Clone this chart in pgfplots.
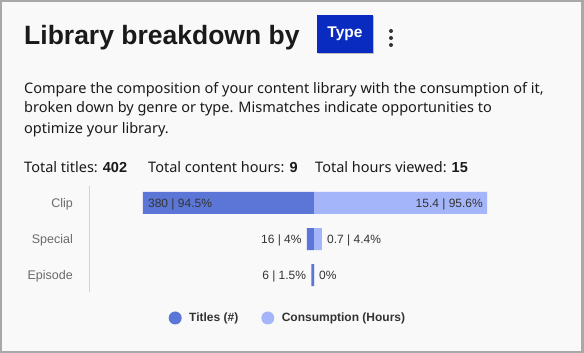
\documentclass[border=0pt]{standalone}
\usepackage{pgfplots}
\pgfplotsset{compat=1.18}
\usepackage{fontspec}
\setmainfont{Liberation Sans}
\newfontfamily\bodyfont{Noto Sans}
\newcommand{\num}[1]{{\normalfont\bfseries #1}}
\definecolor{bordergray}{HTML}{A8A8A8}
\definecolor{bgcol}{HTML}{F9F9F9}
\definecolor{darkbar}{HTML}{5B76D7}
\definecolor{lightbar}{HTML}{A5B5FA}
\definecolor{btnblue}{HTML}{0A2BBF}
\definecolor{axiscol}{HTML}{C9D3EE}
\definecolor{txtdark}{HTML}{1A1A1A}
\definecolor{txtmid}{HTML}{333333}
\definecolor{txtgray}{HTML}{6A6A6A}
\begin{document}
\begin{tikzpicture}
% background and frame
\fill[bordergray] (0pt,0pt) rectangle (584pt,-353pt);
\fill[bgcol] (2pt,-2pt) rectangle (580.5pt,-350.5pt);
% title
\node[anchor=base west, inner sep=0pt, text=txtdark, font=\fontsize{26.5}{30}\selectfont\bfseries] at (24pt,-45pt) {Library breakdown by};
\fill[black!25] (318pt,-16pt) rectangle (374pt,-54pt);
\node[fill=btnblue, text=white, inner sep=0pt, minimum width=56pt, minimum height=38pt, font=\fontsize{15.5}{18}\selectfont\bfseries] at (345pt,-34pt) {Type};
\fill[txtmid] (391pt,-31pt) circle (2pt);
\fill[txtmid] (391pt,-38pt) circle (2pt);
\fill[txtmid] (391pt,-45pt) circle (2pt);
% description
\begin{scope}[every node/.style={anchor=base west, inner sep=0pt, text=txtdark, font=\bodyfont\fontsize{14.5}{20}\selectfont}]
\node at (24pt,-93pt) {Compare the composition of your content library with the consumption of it,};
\node at (24pt,-113pt) {broken down by genre or type. Mismatches indicate opportunities to};
\node at (24pt,-133pt) {optimize your library.};
\node at (24pt,-172pt) {Total titles: \num{402}};
\node at (148pt,-172pt) {Total content hours: \num{9}};
\node at (315pt,-172pt) {Total hours viewed: \num{15}};
\end{scope}
\begin{axis}[
  at={(89pt,-292pt)}, anchor=south west,
  scale only axis, width=450pt, height=106pt,
  xmin=-124.3, xmax=124.3, ymin=-0.47, ymax=2.47,
  hide x axis,
  axis y line*=left,
  y axis line style={draw=axiscol, line width=1pt},
  ytick={0,1,2}, yticklabels={Episode,Special,Clip},
  major tick length=0pt,
  yticklabel style={anchor=base east, inner sep=0pt, xshift=-16pt, yshift=-4.5pt, text=txtgray, font=\fontsize{12.5}{14}\selectfont},
  clip=false,
  legend columns=2,
  legend style={at={(0.442,-0.245)}, anchor=center, draw=none, fill=none,
    font=\fontsize{12}{15}\selectfont\bfseries, text=txtmid,
    /tikz/every even column/.append style={column sep=21pt}},
  legend cell align=left,
]
\addplot[xbar, bar width=22pt, bar shift=0pt, fill=darkbar, draw=none,
  legend image code/.code={\fill[darkbar] (0pt,0pt) circle (6.5pt); \path (12pt,0pt);}]
  coordinates {(-94.5,2) (-4,1) (-1.5,0)};
\addlegendentry{Titles (\#)}
\addplot[xbar, bar width=22pt, bar shift=0pt, fill=lightbar, draw=none,
  legend image code/.code={\fill[lightbar] (0pt,0pt) circle (6.5pt); \path (12pt,0pt);}]
  coordinates {(95.6,2) (4.4,1) (0,0)};
\addlegendentry{Consumption (Hours)}
\begin{scope}[every node/.style={inner sep=0pt, text=txtmid, font=\fontsize{12}{14}\selectfont}]
\node[anchor=base west] at ([xshift=5pt,yshift=-4.5pt]axis cs:-94.5,2) {380 | 94.5\%};
\node[anchor=base east] at ([xshift=-4pt,yshift=-4.5pt]axis cs:95.6,2) {15.4 | 95.6\%};
\node[anchor=base east] at ([xshift=-5pt,yshift=-4.5pt]axis cs:-4,1) {16 | 4\%};
\node[anchor=base west] at ([xshift=5pt,yshift=-4.5pt]axis cs:4.4,1) {0.7 | 4.4\%};
\node[anchor=base east] at ([xshift=-5pt,yshift=-4.5pt]axis cs:-1.5,0) {6 | 1.5\%};
\node[anchor=base west] at ([xshift=5pt,yshift=-4.5pt]axis cs:0,0) {0\%};
\end{scope}
\end{axis}
\end{tikzpicture}
\end{document}
